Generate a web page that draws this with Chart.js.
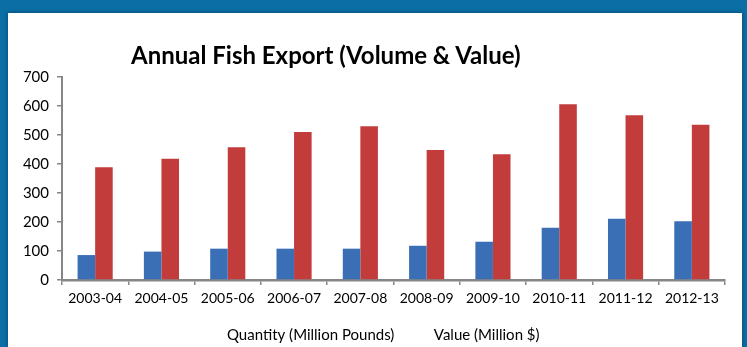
<!DOCTYPE html>
<html lang="en">
<head>
<meta charset="UTF-8">
<title>Annual Fish Export</title>
<script src="https://cdn.jsdelivr.net/npm/chart.js"></script>
<style>
    html, body { margin: 0; padding: 0; }
    body {
        width: 747px; height: 347px; overflow: hidden;
        background: #0b6fa6;
        position: relative;
        font-family: 'Lato', sans-serif;
    }
    .panel {
        position: absolute; left: 8px; top: 13px; width: 734px; height: 334px;
        background: #fff;
        box-shadow: 0 0 4px rgba(0, 30, 60, 0.6);
        overflow: hidden;
    }
    .title {
        position: absolute; left: 123px; top: 27px;
        font-size: 24px; font-weight: bold; color: #000;
        white-space: nowrap;
    }
    canvas { position: absolute; left: 0; top: 0; }
</style>
</head>
<body>
<div class="panel">
    <canvas id="fishChart" width="734" height="340"></canvas>
    <div class="title">Annual Fish Export (Volume &amp; Value)</div>
</div>

<script>
    const years = ['2003-04', '2004-05', '2005-06', '2006-07', '2007-08', '2008-09', '2009-10', '2010-11', '2011-12', '2012-13'];
    const quantity = [86, 98, 108, 108, 108, 118, 132, 180, 211, 203];
    const value = [389, 418, 458, 510, 530, 448, 434, 606, 568, 535];
    const yTicks = [0, 100, 200, 300, 400, 500, 600, 700];

    const axisGrey = '#868686';

    new Chart(document.getElementById('fishChart'), {
        type: 'bar',
        data: {
            labels: years,
            datasets: [
                { label: 'Quantity (Million Pounds)', data: quantity, backgroundColor: '#3a6fb5' },
                { label: 'Value (Million $)', data: value, backgroundColor: '#c23c3b' }
            ]
        },
        options: {
            responsive: false,
            animation: false,
            layout: { padding: { top: 64, right: 17, left: 0, bottom: 0 } },
            categoryPercentage: 0.53,
            barPercentage: 1.0,
            plugins: {
                title: { display: false },
                tooltip: { enabled: false },
                legend: {
                    position: 'bottom',
                    labels: {
                        boxWidth: 26,
                        boxHeight: 0,
                        padding: 6,
                        color: '#000',
                        font: { family: 'Lato', size: 15 },
                        // Excel legend shows no swatches, only the names
                        generateLabels: chart => chart.data.datasets.map((ds, i) => ({
                            text: ds.label,
                            fillStyle: 'rgba(0,0,0,0)',
                            strokeStyle: 'rgba(0,0,0,0)',
                            lineWidth: 0,
                            fontColor: '#000',
                            datasetIndex: i,
                            hidden: false
                        }))
                    }
                }
            },
            scales: {
                x: {
                    grid: {
                        offset: true,
                        drawOnChartArea: false,
                        tickLength: 5,
                        color: axisGrey,
                        lineWidth: 1.5
                    },
                    border: { color: axisGrey, width: 2.5 },
                    ticks: { color: '#000', font: { family: 'Lato', size: 14 }, padding: 5, maxRotation: 0 },
                    afterFit: s => { s.height = 42; }
                },
                y: {
                    min: 0,
                    max: 700,
                    afterBuildTicks: s => { s.ticks = yTicks.map(v => ({ value: v })); },
                    grid: {
                        drawOnChartArea: false,
                        tickLength: 5,
                        color: axisGrey,
                        lineWidth: 1.5
                    },
                    border: { color: axisGrey, width: 2 },
                    ticks: { color: '#000', font: { family: 'Lato', size: 15 }, padding: 8 },
                    afterFit: s => { s.width = 54; }
                }
            }
        }
    });
</script>
</body>
</html>
